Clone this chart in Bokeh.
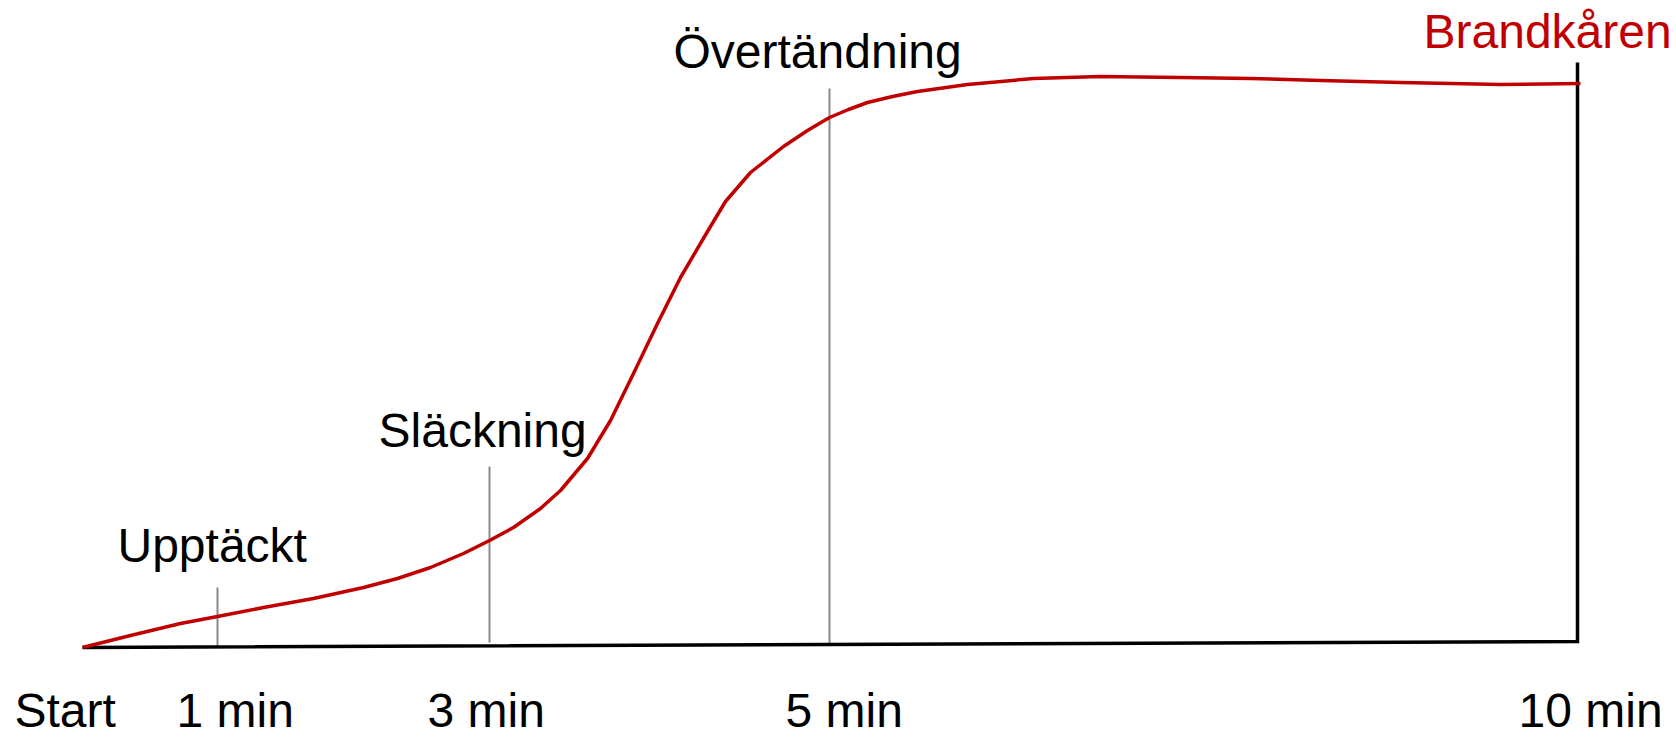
from bokeh.plotting import figure
from bokeh.models import Range1d
from bokeh.core.properties import value
from bokeh.embed import file_html
from bokeh.resources import INLINE

# Time axis position (diagram units, start = 0) and fire intensity (baseline = 0)
curve_t = [0, 48, 98, 135, 181, 231, 281, 315, 348, 381, 407, 431, 458, 478, 505,
           528, 551, 575, 598, 625, 643, 668, 701, 725, 747, 766, 785, 810, 835,
           885, 951, 1018, 1098, 1168, 1238, 1318, 1418, 1498]
curve_i = [0, 12, 24, 31, 40, 49, 60, 69, 80, 94, 107, 120, 139, 157, 189,
           227, 274, 324, 370, 416, 446, 475, 501, 517, 530, 538, 545, 551, 556,
           563, 569, 571, 570, 569, 567, 565, 563, 564]

# Axis frame (time line and the end marker at 10 min)
axis_t = [0, 1495, 1495]
axis_i = [0, 6, 585]

# Event markers
event_names = ["Upptäckt", "Släckning", "Övertändning"]
event_t = [135, 407, 747]
event_bottom = [0, 5, 3]
event_top = [60, 181, 559]
event_label_t = [35, 296, 591]
event_label_i = [102, 217, 596]

# Time tick labels
tick_labels = ["Start", "1 min", "3 min", "5 min", "10 min"]
tick_label_t = [-68, 94, 345, 703, 1436]
tick_label_i = [-63, -63, -63, -63, -63]

end_label = "Brandkåren"
end_label_t = [1341]
end_label_i = [616]

FONT = value("Liberation Sans")

p = figure(width=1676, height=738, output_backend="svg", toolbar_location=None,
           x_range=Range1d(-82, 1594), y_range=Range1d(-91, 647),
           min_border=0, min_border_left=0, min_border_right=0,
           min_border_top=0, min_border_bottom=0)
p.axis.visible = False
p.xgrid.visible = False
p.ygrid.visible = False
p.outline_line_color = None
p.background_fill_color = "white"
p.border_fill_color = "white"

# gray event lines
p.segment(x0=event_t, y0=event_bottom, x1=event_t, y1=event_top,
          line_color="#8a8a8a", line_width=2)

# black axis frame
p.line(axis_t, axis_i, line_color="black", line_width=3.5, line_join="miter")

# red fire curve
p.line(curve_t, curve_i, line_color="#C00000", line_width=3.5, line_join="round")

# event labels
p.text(x=event_label_t, y=event_label_i, text=event_names, text_font=FONT,
       text_font_size="48px", text_color="black", text_align="left",
       text_baseline="alphabetic")

# tick labels
p.text(x=tick_label_t, y=tick_label_i, text=tick_labels, text_font=FONT,
       text_font_size="48px", text_color="black", text_align="left",
       text_baseline="alphabetic")

# end label
p.text(x=end_label_t, y=end_label_i, text=[end_label], text_font=FONT,
       text_font_size="48px", text_color="#C00000", text_align="left",
       text_baseline="alphabetic")

open("out.html", "w").write(file_html(p, INLINE))
